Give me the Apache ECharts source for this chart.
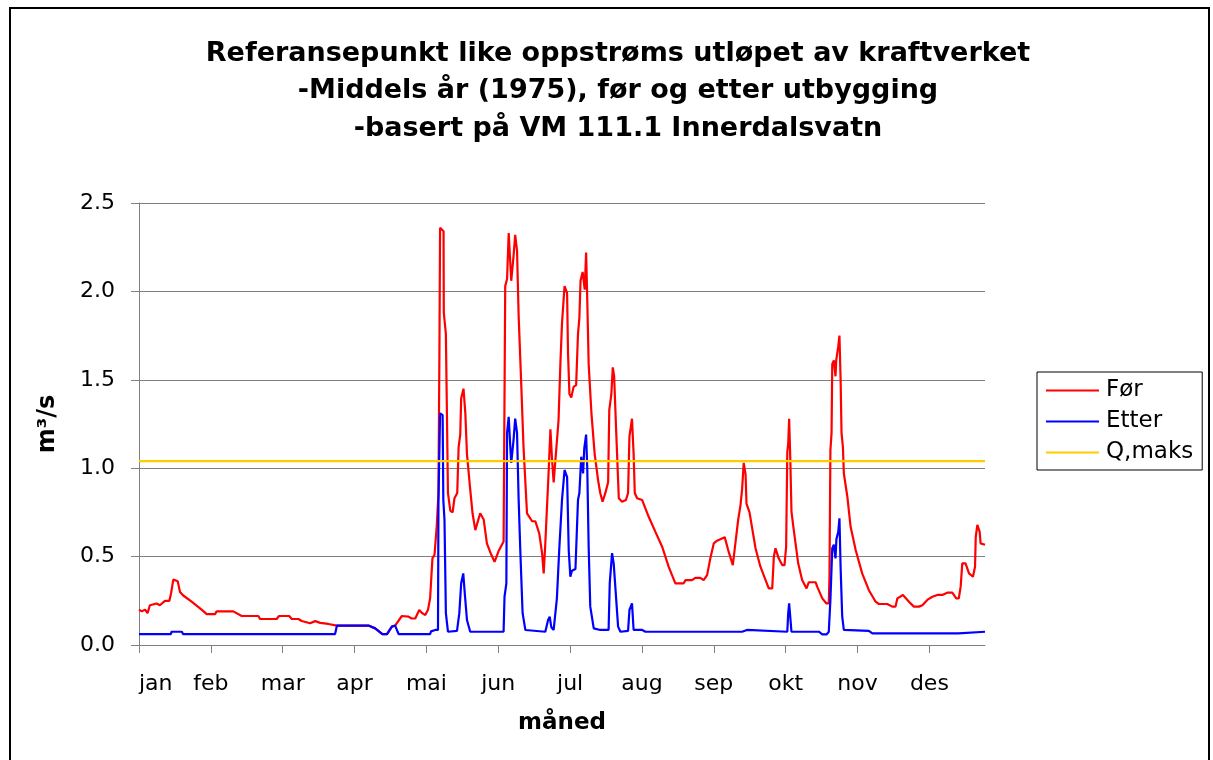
<!DOCTYPE html>
<html>
<head>
<meta charset="utf-8">
<script src="https://cdn.jsdelivr.net/npm/echarts@6/dist/echarts.min.js"></script>
<style>
  html, body { margin: 0; padding: 0; background: #fff; }
  #chart { width: 1213px; height: 760px; }
</style>
</head>
<body>
<div id="chart"></div>
<script>
// Month labels and tick positions (day of year, one tick every 31 days)
const monthLabels = ['jan','feb','mar','apr','mai','jun','jul','aug','sep','okt','nov','des'];
const tickDays = [0, 31, 62, 93, 124, 155, 186, 217, 248, 279, 310, 341];

// Q,maks (m3/s)
const qMaks = 1.04;

// "Før" — vertices: [day of year, m3/s]
const forData = [
  [0,0.20],[1.2,0.19],[2.6,0.20],[3.7,0.18],[4.7,0.225],[7.6,0.235],[9,0.225],[11.2,0.25],[13.1,0.25],
  [13.8,0.29],[14.8,0.37],[15.5,0.38],[16.7,0.36],[17.7,0.30],[19.1,0.28],[22.7,0.245],[27,0.20],
  [29.2,0.175],[32.8,0.175],[33.5,0.19],[40.7,0.19],[44.3,0.164],[51.5,0.164],[52.2,0.147],[59.4,0.147],
  [60.4,0.164],[64.8,0.164],[65.9,0.147],[68.8,0.147],[70.2,0.136],[73.8,0.123],[76,0.135],[78.2,0.125],
  [81.7,0.119],[85.4,0.11],[99,0.11],[101.9,0.094],[105,0.062],[107,0.062],[109.1,0.104],[110.5,0.11],
  [113.4,0.164],[116.3,0.16],[117.7,0.15],[119.2,0.15],[120.9,0.198],[122.2,0.18],[123.5,0.17],
  [124.7,0.20],[125.6,0.264],[126.6,0.49],[127.5,0.51],[128.5,0.68],[129.2,0.86],[129.6,1.63],
  [129.9,2.36],[131.4,2.34],[131.5,1.88],[132.4,1.76],[133.3,0.86],[134.3,0.76],[135.3,0.75],
  [136.1,0.83],[137.3,0.86],[137.9,1.12],[138.6,1.19],[139,1.395],[140,1.45],[140.8,1.31],[141.5,1.08],
  [142.9,0.88],[143.9,0.745],[145.1,0.65],[145.8,0.65],[147.2,0.745],[148.7,0.71],[150.1,0.575],
  [152,0.51],[153.4,0.47],[155.1,0.53],[157.3,0.585],[158,2.03],[158.8,2.07],[159.5,2.33],[160.6,2.06],
  [161.4,2.06],[161.6,2.2],[162.3,2.32],[163.1,2.23],[163.8,1.86],[164.9,1.48],[165.9,1.12],[167.4,0.745],
  [169.6,0.70],[171,0.70],[172.7,0.63],[173.9,0.52],[174.6,0.405],[175.3,0.575],[176.7,0.97],[177.5,1.22],
  [178.2,1.05],[178.9,0.92],[179.6,0.93],[181,1.27],[181.8,1.59],[182.5,1.82],[183.6,2.03],[184.7,1.99],
  [185.1,1.65],[185.7,1.42],[186.5,1.40],[187.5,1.46],[188.6,1.47],[189.4,1.76],[190,1.85],[190.5,2.06],
  [191.4,2.11],[192.3,2.01],[192.9,2.22],[193.3,2.01],[194,1.59],[195.2,1.31],[196.6,1.08],[198.1,0.93],
  [199,0.86],[200,0.81],[201.2,0.86],[202.4,0.92],[202.9,1.33],[203.8,1.42],[204.4,1.57],[205,1.52],
  [205.8,1.235],[207,0.83],[208.4,0.81],[210.1,0.82],[211,0.86],[211.6,1.18],[212.7,1.28],[213.4,1.08],
  [213.9,0.86],[214.9,0.83],[217.1,0.82],[219.9,0.725],[222.8,0.64],[225.7,0.556],[228.5,0.443],
  [231.4,0.349],[235,0.349],[235.8,0.367],[238.6,0.367],[240,0.38],[242.2,0.38],[243.6,0.367],
  [245.1,0.395],[246.5,0.49],[248,0.575],[249.4,0.59],[252.7,0.61],[254.2,0.537],[256.2,0.452],
  [257.3,0.575],[258.5,0.707],[259.5,0.79],[260.2,0.88],[260.9,1.03],[261.7,0.965],[262.1,0.80],
  [263.4,0.75],[266,0.547],[268.1,0.443],[270.3,0.368],[271.7,0.32],[273.2,0.32],[273.9,0.50],
  [274.6,0.547],[275.3,0.547],[276,0.49],[277.5,0.452],[278.5,0.452],[279.2,0.556],[279.7,1.09],
  [280.1,1.14],[280.5,1.28],[281,1.05],[281.5,0.754],[282.5,0.65],[284.4,0.462],[286.1,0.368],
  [288,0.32],[289,0.355],[291.9,0.355],[292.6,0.33],[294.8,0.264],[296.5,0.236],[297.6,0.236],
  [297.9,0.386],[298.3,1.10],[298.8,1.20],[299.1,1.59],[299.8,1.61],[300.5,1.52],[300.8,1.61],
  [301.7,1.69],[302.2,1.75],[302.7,1.50],[303.1,1.20],[303.7,1.12],[304.1,0.97],[305.6,0.84],[307,0.67],
  [309.2,0.537],[312,0.405],[314.9,0.31],[317.8,0.245],[319.2,0.232],[322.8,0.232],[325,0.217],
  [326.4,0.217],[327.2,0.264],[329.6,0.283],[332.2,0.245],[334.3,0.217],[336.5,0.217],[338,0.225],
  [340.1,0.255],[342.3,0.273],[344.4,0.283],[346.6,0.283],[347.3,0.273],[348.7,0.296],[350.9,0.296],
  [352.6,0.264],[353.7,0.264],[354.5,0.33],[355.2,0.462],[356.6,0.462],[358.1,0.405],[359.8,0.386],
  [360.7,0.443],[361,0.61],[361.7,0.68],[362.7,0.64],[363.1,0.575],[365,0.567]
];

// "Etter" — vertices: [day of year, m3/s]
const etterData = [
  [0,0.062],[13.8,0.062],[14,0.075],[18.5,0.075],[19,0.062],[84.6,0.062],[85.4,0.11],[99,0.11],
  [101.9,0.094],[105,0.062],[107,0.062],[109.1,0.104],[110.5,0.11],[112,0.062],[125.6,0.062],
  [126,0.077],[127.8,0.085],[129,0.085],[129.2,0.82],[129.9,1.31],[131,1.30],[131.3,0.82],[131.8,0.707],
  [132.4,0.18],[133.3,0.075],[137.2,0.08],[138.2,0.18],[139,0.349],[139.9,0.405],[140.5,0.30],
  [141.5,0.141],[142.9,0.075],[157.3,0.075],[157.7,0.273],[158.5,0.349],[158.8,1.20],[159.5,1.29],
  [160.2,1.12],[160.6,1.03],[161.4,1.03],[161.6,1.16],[162.3,1.28],[163.1,1.20],[163.8,0.82],
  [164.5,0.537],[165.5,0.18],[166.7,0.085],[175.3,0.075],[176.5,0.141],[177.2,0.16],[177.9,0.10],
  [178.9,0.085],[179.6,0.085],[180.3,0.264],[181.3,0.537],[182.5,0.82],[183.6,0.99],[184.7,0.95],
  [185.4,0.537],[186.1,0.386],[186.8,0.42],[188.3,0.43],[189.4,0.82],[190,0.86],[190.8,1.065],
  [191.6,0.97],[192.1,1.11],[192.9,1.19],[193.4,1.0],[194,0.556],[194.7,0.217],[196.2,0.094],
  [199,0.085],[199.8,0.08],[200.8,0.085],[202.6,0.085],[203.1,0.349],[204.1,0.52],[204.8,0.46],
  [205.5,0.33],[206.7,0.104],[207.7,0.075],[211,0.08],[211.6,0.198],[212.7,0.236],[213.4,0.085],
  [217.1,0.085],[218.5,0.075],[260.2,0.075],[260.6,0.085],[262.3,0.085],[262.7,0.075],[279.7,0.075],
  [280.1,0.18],[280.5,0.236],[281.1,0.14],[281.5,0.075],[293.3,0.075],[294.8,0.06],[296.7,0.06],
  [297.6,0.075],[298.3,0.255],[299.1,0.547],[299.8,0.567],[300.5,0.49],[300.9,0.60],[301.7,0.64],
  [302.2,0.717],[302.7,0.44],[303.4,0.16],[304.1,0.085],[314.9,0.08],[316.4,0.066],[353.5,0.066],
  [354,0.075],[365,0.075]
];

const FONT = 'DejaVu Sans';
const chart = echarts.init(document.getElementById('chart'), null, { renderer: 'canvas' });

chart.setOption({
  backgroundColor: '#ffffff',
  animation: false,
  title: {
    text: 'Referansepunkt like oppstrøms utløpet av kraftverket\n-Middels år (1975), før og etter utbygging\n-basert på VM 111.1 Innerdalsvatn',
    left: 613,
    top: 30,
    textAlign: 'center',
    textStyle: { fontFamily: FONT, fontSize: 27, fontWeight: 'bold', color: '#000', lineHeight: 37.5 }
  },
  legend: {
    orient: 'vertical',
    left: 1037,
    top: 372,
    padding: [7, 9, 6, 9],
    itemGap: 8,
    itemWidth: 53,
    itemHeight: 2,
    icon: 'rect',
    borderColor: '#000',
    borderWidth: 1,
    textStyle: { fontFamily: FONT, fontSize: 23, color: '#000', lineHeight: 23, padding: [0, 0, 0, 2] },
    data: ['Før', 'Etter', 'Q,maks']
  },
  grid: { left: 139, right: 228, top: 203, bottom: 115, containLabel: false },
  xAxis: {
    type: 'value',
    min: 0,
    max: 365,
    interval: 31,
    name: 'måned',
    nameLocation: 'middle',
    nameGap: 67,
    nameTextStyle: { fontFamily: FONT, fontSize: 23, fontWeight: 'bold', color: '#000' },
    axisLine: { show: true, lineStyle: { color: '#808080', width: 1 } },
    axisTick: { show: true, length: 8, inside: false, customValues: tickDays, lineStyle: { color: '#808080' } },
    axisLabel: {
      customValues: tickDays,
      formatter: function (v) { return monthLabels[Math.round(v / 31)] || ''; },
      fontFamily: FONT, fontSize: 22, color: '#000', margin: 28,
      alignMinLabel: 'left'
    },
    splitLine: { show: false }
  },
  yAxis: {
    type: 'value',
    min: 0,
    max: 2.5,
    interval: 0.5,
    name: 'm³/s',
    nameLocation: 'middle',
    nameGap: 79,
    nameTextStyle: { fontFamily: FONT, fontSize: 24, fontWeight: 'bold', color: '#000' },
    axisLine: { show: true, lineStyle: { color: '#808080', width: 1 } },
    axisTick: { show: true, length: 8, lineStyle: { color: '#808080' } },
    axisLabel: {
      formatter: function (v) { return v.toFixed(1); },
      fontFamily: FONT, fontSize: 22, color: '#000', margin: 24
    },
    splitLine: { show: true, lineStyle: { color: '#808080', width: 1 } }
  },
  graphic: [{
    type: 'rect',
    shape: { x: 10, y: 8, width: 1199, height: 760 },
    style: { fill: 'none', stroke: '#000', lineWidth: 2 },
    silent: true
  }],
  series: [
    {
      name: 'Før', type: 'line', data: forData, showSymbol: false, symbol: 'none',
      lineStyle: { color: '#FF0000', width: 2.2 }, itemStyle: { color: '#FF0000' }
    },
    {
      name: 'Etter', type: 'line', data: etterData, showSymbol: false, symbol: 'none',
      lineStyle: { color: '#0000FF', width: 2.2 }, itemStyle: { color: '#0000FF' }
    },
    {
      name: 'Q,maks', type: 'line', data: [[0, qMaks], [365, qMaks]], showSymbol: false, symbol: 'none',
      lineStyle: { color: '#FFCC00', width: 2.2 }, itemStyle: { color: '#FFCC00' }
    }
  ]
});
</script>
</body>
</html>
